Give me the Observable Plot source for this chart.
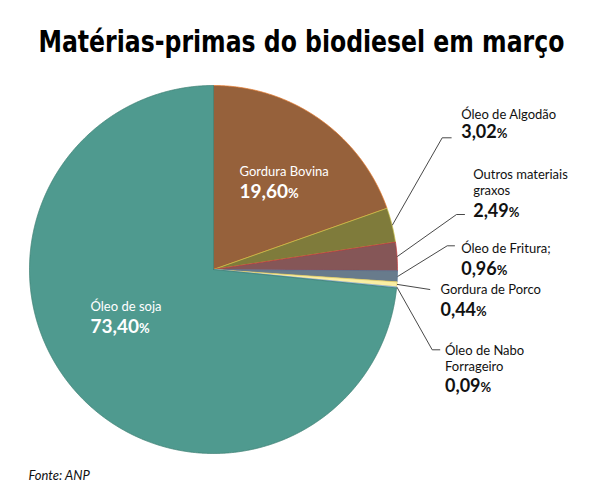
<!DOCTYPE html>
<html>
<head>
<meta charset="utf-8">
<script src="https://cdn.jsdelivr.net/npm/d3@7"></script>
<script src="https://cdn.jsdelivr.net/npm/@observablehq/plot@0.6"></script>
<style>
  html, body { margin: 0; padding: 0; background: #ffffff; }
  #chart { width: 600px; height: 500px; }
</style>
</head>
<body>
<div id="chart"></div>
<script>
// ---- data ----
const title = "Matérias-primas do biodiesel em março";
const source = "Fonte: ANP";
const categories = ["Gordura Bovina", "Óleo de Algodão", "Outros materiais\ngraxos", "Óleo de Fritura;", "Gordura de Porco", "Óleo de Nabo\nForrageiro", "Óleo de soja"];
const values = [19.60, 3.02, 2.49, 0.96, 0.44, 0.09, 73.40];
const valueLabels = ["19,60%", "3,02%", "2,49%", "0,96%", "0,44%", "0,09%", "73,40%"];
const fillColors = ["#96613b", "#7f7b3b", "#855657", "#687b8c", "#f9eea4", "#a9c4e6", "#4f9a8f"];
const strokeColors = ["#e3782c", "#c9c24a", "#c0393a", "#56708f", "#e6cf62", "#8eb0dc", "#3e8074"];

// ---- layout (not data) ----
const W = 600, H = 500;
const cx = 213, cy = 269, R = 184;
// label anchor: x, baseline of last name line, baseline of value, inside?
const labelLayout = [
  {x: 239, nameBase: 175.7, valueBase: 197.7, inside: true},
  {x: 460.7, nameBase: 118.3, valueBase: 137.7, inside: false},
  {x: 472.7, nameBase: 194, valueBase: 216, inside: false},
  {x: 460.7, nameBase: 252.7, valueBase: 274, inside: false},
  {x: 440, nameBase: 293.3, valueBase: 315.3, inside: false},
  {x: 444.5, nameBase: 370.5, valueBase: 391.7, inside: false},
  {x: 90, nameBase: 310, valueBase: 332.3, inside: true}
];
// leader line elbows / ends (null for inside labels)
const leaderLayout = [
  null,
  [[441.7, 137.3], [450.7, 137.3]],
  [[456, 214], [464, 214]],
  [[446.7, 245.3], [454, 245.3]],
  [[429.3, 289]],
  [[431.7, 349.3], [439.3, 349.3]],
  null
];

const arcs = d3.pie().sort(null).value(d => d)(values);
const polar = (a, r) => [cx + r * Math.sin(a), cy - r * Math.cos(a)];

const slices = arcs.map((p, i) => {
  const pts = [[cx, cy]];
  const n = Math.max(2, Math.ceil((p.endAngle - p.startAngle) / 0.004));
  for (let k = 0; k <= n; k++) pts.push(polar(p.startAngle + (p.endAngle - p.startAngle) * k / n, R));
  pts.push([cx, cy]);
  return {pts, fill: fillColors[i], stroke: strokeColors[i]};
});

const leaders = [];
arcs.forEach((p, i) => {
  if (!leaderLayout[i]) return;
  const mid = (p.startAngle + p.endAngle) / 2;
  leaders.push([polar(mid, R + 0.5), ...leaderLayout[i]]);
});

const labels = categories.map((c, i) => ({name: c, value: valueLabels[i], ...labelLayout[i]}));
const inside = labels.filter(d => d.inside);
const outside = labels.filter(d => !d.inside);

const font = "Lato, 'Open Sans', sans-serif";

const marks = [
  ...slices.map(s => Plot.line(s.pts, {x: d => d[0], y: d => d[1], fill: s.fill, stroke: s.stroke, strokeWidth: 0.8, curve: "linear"})),
  ...leaders.map(l => Plot.line(l, {x: d => d[0], y: d => d[1], stroke: "#333333", strokeWidth: 0.9, curve: "linear"})),
  Plot.text(inside, {x: "x", y: "nameBase", text: "name", textAnchor: "start", lineAnchor: "bottom", fontSize: 13, fill: "#ffffff", fontFamily: font}),
  Plot.text(inside, {x: "x", y: "valueBase", text: "value", textAnchor: "start", lineAnchor: "bottom", fontSize: 19, fontWeight: "bold", fill: "#ffffff", fontFamily: font}),
  Plot.text(outside, {x: "x", y: "nameBase", text: "name", textAnchor: "start", lineAnchor: "bottom", lineHeight: 1.2, fontSize: 13, fill: "#111111", fontFamily: font}),
  Plot.text(outside, {x: "x", y: "valueBase", text: "value", textAnchor: "start", lineAnchor: "bottom", fontSize: 18, fontWeight: "bold", fill: "#111111", fontFamily: font}),
  Plot.text([title], {x: 38, y: 51, text: d => d, textAnchor: "start", lineAnchor: "bottom", fontSize: 30, fontWeight: "bold", fill: "#000000", fontFamily: "'DejaVu Sans Condensed', 'Liberation Sans Narrow', sans-serif"}),
  Plot.text([source], {x: 28, y: 479, text: d => d, textAnchor: "start", lineAnchor: "bottom", fontSize: 13, fontStyle: "italic", fill: "#111111", fontFamily: font})
];

const svg = Plot.plot({
  width: W, height: H, margin: 0,
  x: {domain: [0, W], range: [0, W], axis: null},
  y: {domain: [0, H], range: [0, H], axis: null},
  style: {background: "#ffffff"},
  marks
});

document.getElementById("chart").appendChild(svg);

// post-process: smaller % sign, title compressed to target width
const NS = "http://www.w3.org/2000/svg";
const titleWidth = 526;
d3.select(svg).selectAll("text").each(function () {
  const t = this.textContent;
  if (t === title) {
    const len = this.getComputedTextLength();
    const s = len > 0 ? titleWidth / len : 1;
    const x0 = +this.getAttribute("x") || 0;
    const tr = this.getAttribute("transform") || "";
    this.setAttribute("transform", `${tr} translate(${x0},0) scale(${s},1) translate(${-x0},0)`);
  } else if (/%$/.test(t) && !this.querySelector("tspan")) {
    this.textContent = t.slice(0, -1);
    const ts = document.createElementNS(NS, "tspan");
    ts.setAttribute("font-size", 13);
    ts.textContent = "%";
    this.appendChild(ts);
  }
});
</script>
</body>
</html>
